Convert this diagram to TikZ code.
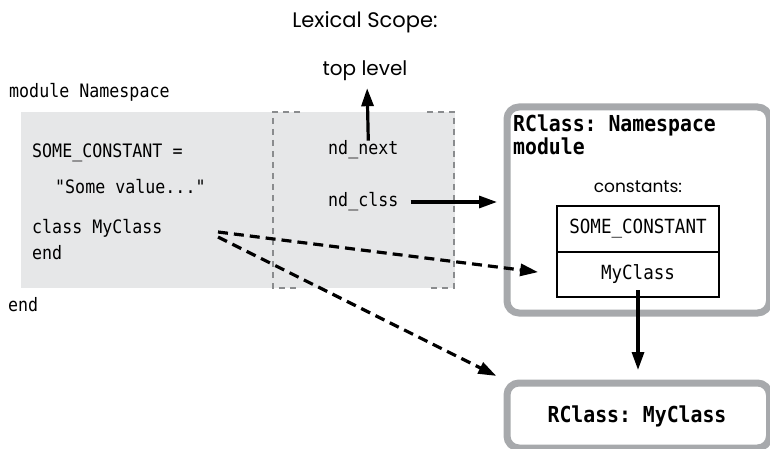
\documentclass[tikz,border=0pt]{standalone}
\usepackage{fontspec}
\setmainfont{Poppins}
\setmonofont[FakeStretch=0.9]{DejaVu Sans Mono}
\usetikzlibrary{positioning, arrows.meta}

\definecolor{scopefill}{HTML}{E6E7E8}
\definecolor{scopeedge}{HTML}{8A8C8E}
\definecolor{boxgray}{HTML}{A7A9AC}

\tikzset{
    code/.style={font=\ttfamily\fontsize{18.5}{20}\selectfont, anchor=west, inner sep=0pt},
    bcode/.style={font=\ttfamily\bfseries\fontsize{22}{23}\selectfont, inner sep=0pt},
    caption/.style={font=\fontsize{#1}{20}\selectfont, inner sep=0pt},
    caption/.default=18,
    rbox/.style={draw=boxgray, line width=7pt, rounded corners=12pt, fill=white, anchor=north west},
    cell/.style={draw, line width=1.7pt, outer sep=0pt, minimum width=162pt, font=\ttfamily\fontsize{19.5}{20}\selectfont},
    scopeline/.style={scopeedge, line width=2.2pt, dash pattern=on 6pt off 5pt},
    ptr/.style={line width=3.2pt, -{Triangle[length=18pt,width=12pt]}},
    dptr/.style={ptr, dash pattern=on 10pt off 6pt}
}

\begin{document}
\begin{tikzpicture}[x=1pt, y=-1pt]
    \useasboundingbox (0,0) rectangle (770,449);
    % Lexical scope side
    \node[caption=21] (title) at (365,22) {Lexical Scope:};
    \node[code] (modline) at (9,92) {module Namespace};
    \fill[scopefill] (21,112) rectangle (455,288);
    % frame of the scope: corners only on top and bottom
    \draw[scopeline] (300,112) -- (273,112) -- (273,288) -- (300,288);
    \draw[scopeline] (427,112) -- (454,112) -- (454,288) -- (427,288);
    \node[code] (const) at (32,153) {SOME\_CONSTANT =};
    \node[code] (value) at (55,187) {"Some value..."};
    \node[code] (cls) at (32,228) {class MyClass};
    \node[code] (clsend) at (32,253) {end};
    \node[code] (modend) at (8,305) {end};
    \node[code] (next) at (328,150) {nd\_next};
    \node[code] (clss) at (328,202) {nd\_clss};
    \node[caption=20] (top) at (365,71) {top level};

    % RClass structures
    \node[rbox, minimum width=262.5pt, minimum height=206pt] (ns) at (503.5,103.5) {};
    \node[bcode, anchor=north west, align=left] (nslabel) at (513,115) {RClass: Namespace\\module};
    \node[caption=17] (consts) at (638,187) {constants:};
    \node[cell, minimum height=46pt] (sc) at (638,229) {SOME\_CONSTANT};
    \node[cell, minimum height=45pt, below=0pt of sc] (mc) {MyClass};
    \node[rbox, minimum width=262.5pt, minimum height=65pt] (ms) at (503.5,379.5) {};
    \node[bcode] (mslabel) at (637,416) {RClass: MyClass};

    % pointers
    \coordinate (clsa) at (218,232);
    \coordinate (clsb) at (218,237);
    \draw[ptr, shorten >=7pt] ([xshift=5pt]next.north) -- ([xshift=2pt]top.south);
    \draw[ptr, shorten >=6.5pt] ([xshift=12pt]clss.east) -- (clss.east -| ns.west);
    \draw[ptr, shorten >=9.5pt] ([yshift=7pt]mc.south) -- (mc.south |- ms.north);
    \draw[dptr, shorten >=19pt] (clsa) -- (mc.west);
    \draw[dptr, shorten >=8pt] (clsb) -- (ms.north west);
\end{tikzpicture}
\end{document}
